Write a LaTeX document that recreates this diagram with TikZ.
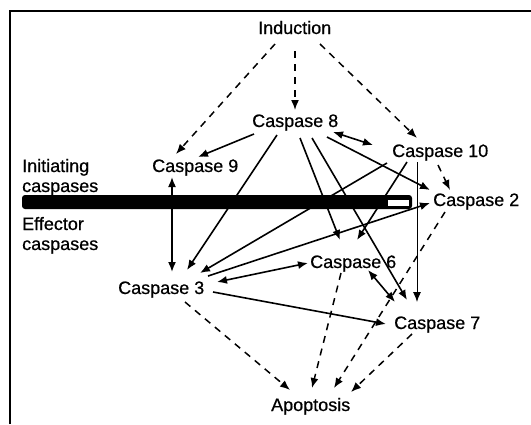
\documentclass[tikz,border=0pt]{standalone}
\usepackage{fontspec}
\setmainfont{Liberation Sans}
\newfontfamily\lblfont{Liberation Sans}[FakeBold=0.6]
\usetikzlibrary{arrows.meta}
\begin{document}
\begin{tikzpicture}[x=1pt,y=-1pt,
  lbl/.style={anchor=base west,inner sep=0pt,font=\lblfont\fontsize{18}{20}\selectfont},
  tipx/.tip={Latex[length=10pt,width=8pt]},
  con/.style={line width=1.6pt,-tipx},
  contwo/.style={line width=1.6pt,tipx-tipx},
  conthin/.style={line width=0.9pt,-tipx},
  dsh/.style={line width=1.5pt,dash pattern=on 7pt off 6pt,-tipx},
]
\useasboundingbox (0,0) rectangle (531,424);
\fill[white] (0,0) rectangle (531,424);
% frame
\draw[line width=2.5pt] (10,424) -- (10,11) -- (531,11);
% bar
\fill[rounded corners=3pt] (22,195) rectangle (412,209);
\fill[white] (388,200) rectangle (409,206);
% nodes
\node[lbl] (ind) at (258,34) {Induction};
\node[lbl] (c8) at (252,127) {Caspase 8};
\node[lbl] (c9) at (152,172) {Caspase 9};
\node[lbl] (c10) at (392,157) {Caspase 10};
\node[lbl] (c2) at (433,206) {Caspase 2};
\node[lbl] (c3) at (118,294) {Caspase 3};
\node[lbl] (c6) at (310,268) {Caspase 6};
\node[lbl] (c7) at (394,329) {Caspase 7};
\node[lbl] (apo) at (271,411) {Apoptosis};
\node[lbl] (ini) at (22,172) {Initiating};
\node[lbl] (inib) at (22,192) {caspases};
\node[lbl] (eff) at (22,230) {Effector};
\node[lbl] (effb) at (22,250) {caspases};
% dashed from induction
\draw[dsh] ([shift={(17,10)}]ind.base west) -- ([shift={(24,-18)}]c9.base west);
\draw[dsh] ([shift={(37,17)}]ind.base west) -- ([shift={(43,-17)}]c8.base west);
\draw[dsh] ([shift={(62,10)}]ind.base west) -- ([shift={(25,-19)}]c10.base west);
% from caspase 8
\draw[con] ([shift={(2,7)}]c8.base west) -- ([shift={(46,-15)}]c9.base west);
\draw[contwo] ([shift={(81,5)}]c8.base west) -- ([shift={(-19,-12)}]c10.base west);
\draw[con] ([shift={(25,8)}]c8.base west) -- ([shift={(69,-24)}]c3.base west);
\draw[con] ([shift={(48,11)}]c8.base west) -- ([shift={(30,-28)}]c6.base west);
\draw[con] ([shift={(60,11)}]c8.base west) -- ([shift={(13,-29)}]c7.base west);
\draw[con] ([shift={(75,10)}]c8.base west) -- ([shift={(-3,-16)}]c2.base west);
% from caspase 10
\draw[dsh] ([shift={(46,8)}]c10.base west) -- ([shift={(17,-16)}]c2.base west);
\draw[con] ([shift={(-5,6)}]c10.base west) -- ([shift={(82,-21)}]c3.base west);
\draw[con] ([shift={(15,5)}]c10.base west) -- ([shift={(47,-28)}]c6.base west);
\draw[conthin] ([shift={(25,5)}]c10.base west) -- ([shift={(23,-27)}]c7.base west);
% caspase 9 / caspase 3
\draw[contwo] ([shift={(20,5)}]c9.base west) -- ([shift={(54,-22)}]c3.base west);
% from caspase 3
\draw[con] ([shift={(90,-18)}]c3.base west) -- ([shift={(-3,-3)}]c2.base west);
\draw[contwo] ([shift={(99,-12)}]c3.base west) -- ([shift={(-2,-5)}]c6.base west);
\draw[con] ([shift={(95,-2)}]c3.base west) -- ([shift={(-8,-5)}]c7.base west);
\draw[contwo] ([shift={(58,2)}]c6.base west) -- ([shift={(1,-27)}]c7.base west);
% to apoptosis
\draw[dsh] ([shift={(67,8)}]c3.base west) -- ([shift={(19,-21)}]apo.base west);
\draw[dsh] ([shift={(31,5)}]c6.base west) -- ([shift={(41,-23)}]apo.base west);
\draw[dsh] ([shift={(12,6)}]c2.base west) -- ([shift={(63,-23)}]apo.base west);
\draw[dsh] ([shift={(18,5)}]c7.base west) -- ([shift={(80,-19)}]apo.base west);
\end{tikzpicture}
\end{document}
